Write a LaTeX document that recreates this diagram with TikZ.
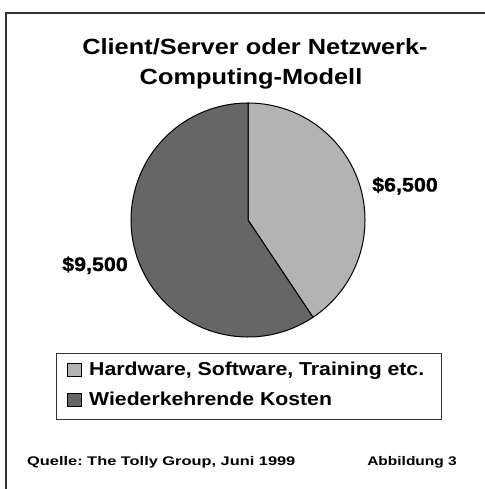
\documentclass[tikz,border=0pt]{standalone}
\usepackage{fontspec}
\usepackage{graphicx}
\setmainfont{Liberation Sans}
\newfontfamily\heavyfont[FakeBold=1.2]{Liberation Sans Bold}
\definecolor{lightslice}{HTML}{B3B3B3}
\definecolor{darkslice}{HTML}{666666}
\definecolor{framegray}{HTML}{333333}
\newcommand{\wide}[2]{\scalebox{#1}[1]{#2}}
\frenchspacing
\begin{document}
\begin{tikzpicture}[x=1pt,y=-1pt,
  titletext/.style={font=\bfseries\fontsize{22}{26}\selectfont, inner sep=0pt, anchor=base},
  valuetext/.style={font=\heavyfont\fontsize{19.5}{22}\selectfont, inner sep=0pt, anchor=base west},
  legendtext/.style={font=\bfseries\fontsize{18.7}{22}\selectfont, anchor=base west, inner sep=0pt},
  foottext/.style={font=\bfseries\fontsize{12.5}{14}\selectfont, inner sep=0pt},
  swatch/.style={draw=black, line width=0.8pt, minimum width=14pt, minimum height=13pt, inner sep=0pt},
  slice/.style={draw=black, line width=1pt}]
\useasboundingbox (0,0) rectangle (484,489);
\fill[white] (0,0) rectangle (484,489);
% outer frame (cut off at right and bottom)
\draw[framegray, line width=2pt] (6,495) -- (6,13) -- (490,13);
% title
\node[titletext] (title1) at (255,55) {\wide{1.153}{Client/Server oder Netzwerk-}};
\node[titletext] (title2) at (251,85) {\wide{1.153}{Computing-Modell}};
% pie
\coordinate (c) at (248,220);
\filldraw[slice, fill=lightslice] (c) -- ++(0,-117) arc[start angle=-90, end angle=56.25, radius=117] -- cycle;
\filldraw[slice, fill=darkslice] (c) -- ++(56.25:117) arc[start angle=56.25, end angle=270, radius=117] -- cycle;
\node[valuetext] (v1) at (372,191.5) {\wide{1.1}{\$6,500}};
\node[valuetext] (v2) at (62,271) {\wide{1.1}{\$9,500}};
% legend
\node[draw=framegray, line width=1.3pt, minimum width=385pt, minimum height=66pt, anchor=north west, inner sep=0pt] (legend) at (56,353) {};
\node[swatch, fill=lightslice] (s1) at (74.5,370) {};
\node[swatch, fill=darkslice] (s2) at (74.5,399.5) {};
\node[legendtext] (l1) at (89,375.7) {\wide{1.135}{Hardware, Software, Training etc.}};
\node[legendtext] (l2) at (89,405) {\wide{1.135}{Wiederkehrende Kosten}};
% footer
\node[foottext, anchor=base west] (q) at (27,465.7) {\wide{1.31}{Quelle: The Tolly Group, Juni 1999}};
\node[foottext, anchor=base east] (a) at (457,465.7) {\wide{1.24}{Abbildung 3}};
\end{tikzpicture}
\end{document}
